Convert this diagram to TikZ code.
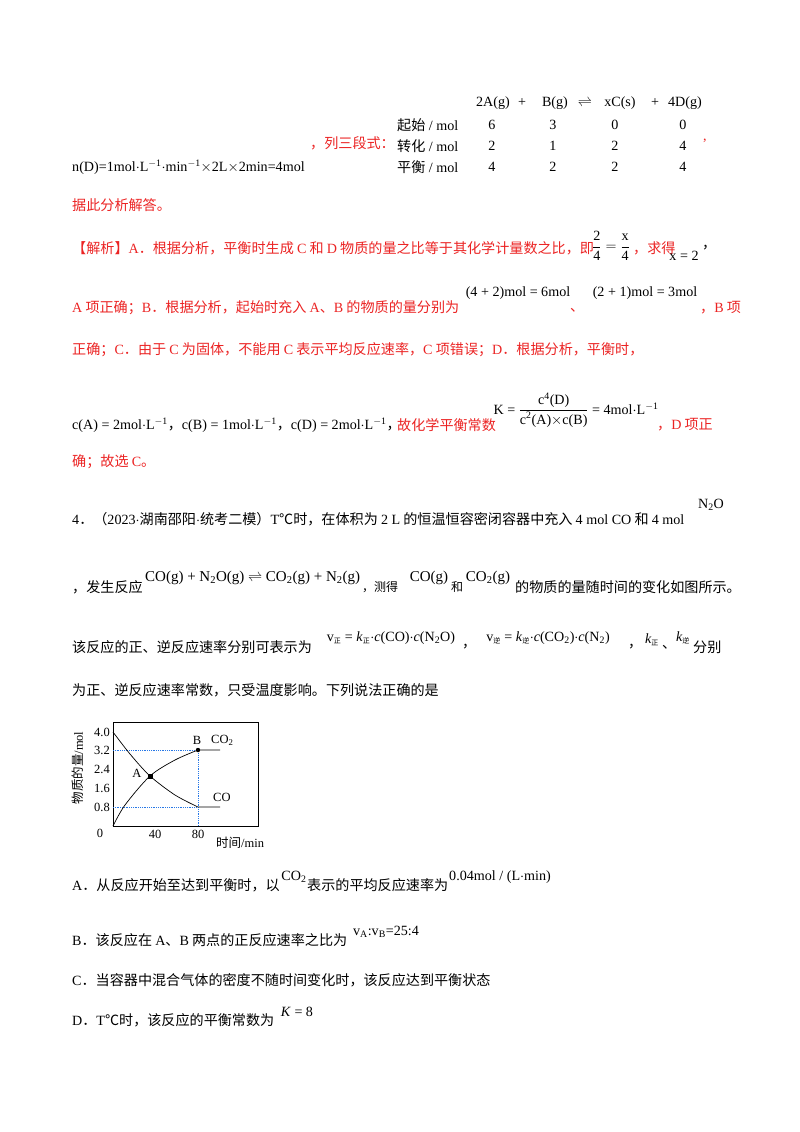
\documentclass[tikz,border=0pt]{standalone}
\usepackage{fontspec}
\setmainfont{Noto Sans CJK SC}
\newfontfamily\TT{Liberation Serif}
\newcommand{\T}[1]{{\TT #1}}
\definecolor{myred}{RGB}{235,35,35}
\definecolor{dblue}{RGB}{40,120,230}
\newcommand{\fs}{\fontsize{14.1}{16}\selectfont}
\newcommand{\sub}[1]{\textsubscript{#1}}
\newcommand{\sups}[1]{\textsuperscript{#1}}
\newcommand{\zh}[1]{\textsubscript{\fontsize{7}{8}\selectfont\rmfamily #1}}
\begin{document}
\begin{tikzpicture}[x=1pt,y=-1pt,
  t/.style={anchor=west,inner sep=0,font=\fs},
  r/.style={t,text=myred},
  c/.style={anchor=center,inner sep=0,font=\fs\TT},
  tick/.style={anchor=center,inner sep=0,font=\fontsize{12.5}{14}\selectfont\TT}]
\useasboundingbox (0,0) rectangle (800,1132);
% table
\node[c] (h1) at (493,103) {2A(g)};
\node[c] (h2) at (522,103) {+};
\node[c] (h3) at (555,103) {B(g)};
\node[c] (h4) at (585,103) {$\rightleftharpoons$};
\node[c] (h5) at (620,103) {xC(s)};
\node[c] (h6) at (655,103) {+};
\node[c] (h7) at (685,103) {4D(g)};
\node[t] (rw1) at (397,125) {起始\T{ / mol}};
\node[t] (rw2) at (397,146) {转化\T{ / mol}};
\node[t] (rw3) at (397,167) {平衡\T{ / mol}};
\foreach \y/\a/\b/\cc/\d in {125/6/3/0/0,146/2/1/2/4,167/4/2/2/4}{
 \node[c] at (492,\y) {\a}; \node[c] at (553,\y) {\b};
 \node[c] at (615,\y) {\cc}; \node[c] at (683,\y) {\d};}
\node[r] (lst) at (310,143) {，列三段式：};
\node[t,text=myred] (cm) at (703,141) {\T{,}};
\node[t] (nd) at (72,167) {\T{n(D)=1mol$\cdot$L\sups{$-$1}$\cdot$min\sups{$-$1}$\times$2L$\times$2min=4mol}};
\node[r] (l2) at (72,205) {据此分析解答。};
% analysis
\node[r] (l3) at (72,248) {【解析】\T{A}．根据分析，平衡时生成 \T{C} 和 \T{D} 物质的量之比等于其化学计量数之比，即};
\node[c] (fr) at (611,246) {$\displaystyle\frac{\mbox{\TT 2}}{\mbox{\TT 4}}=\frac{\mbox{\TT x}}{\mbox{\TT 4}}$};
\node[r] (l3b) at (633,248) {，求得};
\node[c] (x2) at (684,256) {x = 2};
\node[t] (l3c) at (702,248) {，};
\node[r] (l4) at (72,308) {\T{A} 项正确；\T{B}．根据分析，起始时充入 \T{A}、\T{B} 的物质的量分别为};
\node[c] (f1) at (518,293) {(4 + 2)mol = 6mol};
\node[r] (dun) at (570,310) {、};
\node[c] (f2) at (645,293) {(2 + 1)mol = 3mol};
\node[r] (l4b) at (700,308) {，\T{B} 项};
\node[r] (l5) at (72,350) {正确；\T{C}．由于 \T{C} 为固体，不能用 \T{C} 表示平均反应速率，\T{C} 项错误；\T{D}．根据分析，平衡时，};
\node[t] (l6) at (72,425) {\T{c(A) = 2mol$\cdot$L\sups{$-$1}}，\T{c(B) = 1mol$\cdot$L\sups{$-$1}}，\T{c(D) = 2mol$\cdot$L\sups{$-$1}}，};
\node[r] (l6b) at (397,425) {故化学平衡常数};
\node[c] (kf) at (576,410) {K = $\displaystyle\frac{\mbox{\TT c\sups{4}(D)}}{\mbox{\TT c\sups{2}(A)$\times$c(B)}}$ = 4mol$\cdot$L\sups{$-$1}};
\node[r] (l6c) at (657,425) {，\T{D} 项正};
\node[r] (l7) at (72,462) {确；故选 \T{C}。};
% question
\node[t] (q1) at (72,519) {\T{4}．（\T{2023$\cdot$}湖南邵阳\T{$\cdot$}统考二模）\T{T}℃时，在体积为 \T{2 L} 的恒温恒容密闭容器中充入 \T{4 mol CO} 和 \T{4 mol}};
\node[c] (n2o) at (711,505) {N\sub{2}O};
\node[t] (q2) at (72,587) {，发生反应};
\node[t,font=\fontsize{15}{17}\selectfont\TT] (eq) at (145,578) {CO(g) + N\sub{2}O(g) $\rightleftharpoons$ CO\sub{2}(g) + N\sub{2}(g)};
\node[t,font=\fontsize{12}{14}\selectfont] (q2c) at (362,587) {，测得};
\node[c,font=\fontsize{15}{17}\selectfont\TT] (cog) at (429,578) {CO(g)};
\node[t,font=\fontsize{12}{14}\selectfont] (he) at (451,587) {和};
\node[c,font=\fontsize{15}{17}\selectfont\TT] (co2g) at (488,578) {CO\sub{2}(g)};
\node[t] (q2d) at (515,587) {的物质的量随时间的变化如图所示。};
\node[t] (q3) at (72,647) {该反应的正、逆反应速率分别可表示为};
\node[c] (vz) at (391,638) {v\zh{正} = \textit{k}\zh{正}$\cdot$\textit{c}(CO)$\cdot$\textit{c}(N\sub{2}O)};
\node[t] (q3b) at (462,647) {，};
\node[c] (vn) at (548,638) {v\zh{逆} = \textit{k}\zh{逆}$\cdot$\textit{c}(CO\sub{2})$\cdot$\textit{c}(N\sub{2})};
\node[t] (q3c) at (628,647) {，};
\node[c] (kz) at (652,640) {\textit{k}\zh{正}};
\node[t] (q3d) at (662,647) {、};
\node[c] (kn) at (683,638) {\textit{k}\zh{逆}};
\node[t] (q3e) at (693,647) {分别};
\node[t] (q4) at (72,690) {为正、逆反应速率常数，只受温度影响。下列说法正确的是};
% graph
\draw[line width=0.6pt] (113,722) rectangle (258,826);
\draw[dblue,densely dotted,line width=0.8pt] (113,750) -- (198,750) -- (198,826);
\draw[dblue,densely dotted,line width=0.8pt] (113,807) -- (198,807);
\draw[line width=0.7pt] plot[smooth] coordinates {(113,826) (125,805) (150,776) (175,760) (198,750)} -- (220,750);
\draw[line width=0.7pt] plot[smooth] coordinates {(113,732) (130,754) (150,776) (175,795) (198,807)} -- (220,807);
\fill (147.5,773.5) rectangle (152.5,778.5);
\fill (198,750) circle (2.2);
\foreach \y/\l in {732/4.0,750/3.2,769/2.4,788/1.6,807/0.8}{\node[tick,anchor=east] at (110,\y) {\l};}
\node[tick] (z0) at (100,833) {0};
\node[tick] (x40) at (155,834) {40};
\node[tick] (x80) at (198,834) {80};
\node[anchor=west,inner sep=0,font=\fontsize{12.5}{14}\selectfont] (xl) at (216,843) {时间\T{/min}};
\node[anchor=center,inner sep=0,rotate=90,font=\fontsize{12.5}{14}\selectfont] (yl) at (78,768) {物质的量\T{/mol}};
\node[tick] (la) at (137,773) {A};
\node[tick] (lb) at (197,740) {B};
\node[tick,anchor=west] (lco2) at (211,740) {CO\sub{2}};
\node[tick,anchor=west] (lco) at (213,797) {CO};
% options
\node[t] (oa) at (72,885) {\T{A}．从反应开始至达到平衡时，以};
\node[c] (oa1) at (294,877) {CO\sub{2}};
\node[t] (oa2) at (307,885) {表示的平均反应速率为};
\node[c] (oa3) at (500,877) {0.04mol / (L$\cdot$min)};
\node[t] (ob) at (72,940) {\T{B}．该反应在 \T{A}、\T{B} 两点的正反应速率之比为};
\node[c] (ob1) at (386,932) {v\sub{A}:v\sub{B}=25:4};
\node[t] (oc) at (72,980) {\T{C}．当容器中混合气体的密度不随时间变化时，该反应达到平衡状态};
\node[t] (od) at (72,1020) {\T{D}．\T{T}℃时，该反应的平衡常数为};
\node[c] (od1) at (297,1012) {\textit{K} = 8};
\end{tikzpicture}
\end{document}
